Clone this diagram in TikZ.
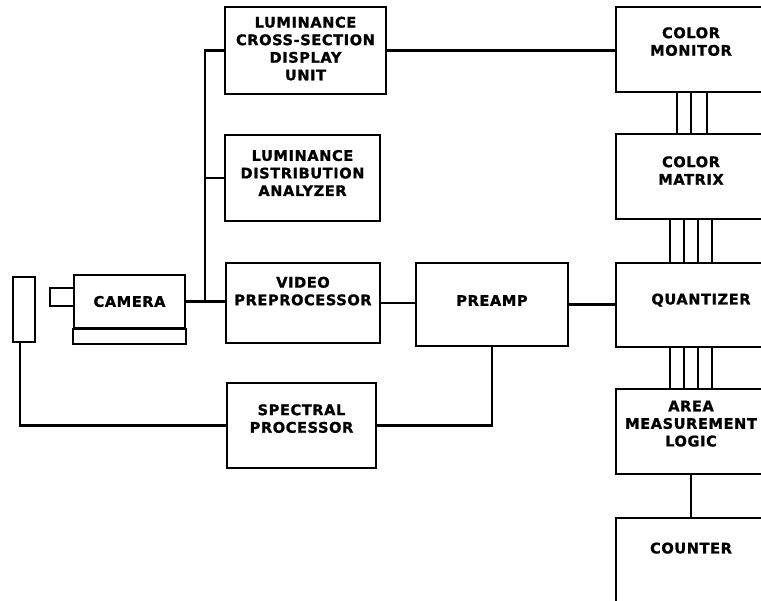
\documentclass[tikz,border=0pt]{standalone}
\usepackage{fontspec}
\newfontfamily\lettering{DejaVu Sans}[LetterSpace=4,BoldFeatures={FakeBold=1.2}]
\usetikzlibrary{positioning}

\begin{document}
\begin{tikzpicture}[x=0.02cm,y=-0.02cm,line width=1.2pt,
  blk/.style 2 args={draw,align=center,inner sep=1pt,minimum width=#1*0.02cm,minimum height=#2*0.02cm,
    font=\lettering\bfseries\fontsize{8.3}{10}\selectfont},
  lift/.style={text depth=#1*0.04cm},
  wire/.style={line width=1pt}]
\clip (0,0) rectangle (761,601);
% left part
\node[blk={22}{65}] (filt) at (24,309.5) {};
\node[blk={24}{18}] (lens) at (62,297) {};
\node[blk={111}{53},fill=white] (cam) at (129.5,301.5) {CAMERA};
\draw (cam.south west) rectangle ([yshift=-15*0.02cm]cam.south east);
\node[blk={161}{87},lift=2] (lcs) at (305.5,50.5) {LUMINANCE\\CROSS-SECTION\\DISPLAY\\UNIT};
\node[blk={155}{86},lift=5] (lda) at (302.5,178) {LUMINANCE\\DISTRIBUTION\\ANALYZER};
\node[blk={154}{80},lift=12] (vp) at (303,303) {VIDEO\\PREPROCESSOR};
\node[blk={152}{83},lift=4] (pre) at (492,304.5) {PREAMP};
\node[blk={149}{85},lift=7] (sp) at (301.5,425.5) {SPECTRAL\\PROCESSOR};
% right column
\node[blk={150}{85},lift=8] (cm) at (691,49.5) {COLOR\\MONITOR};
\node[blk={150}{85},lift=6] (cmx) at (691,176.5) {COLOR\\MATRIX};
\node[blk={150}{84},lift=6] (qz) at (691,305) {\kern0.4cm QUANTIZER};
\node[blk={150}{85},lift=8] (aml) at (691,431.5) {AREA\\MEASUREMENT\\LOGIC};
\node[blk={150}{92},lift=16] (ctr) at (691,564) {COUNTER};
% connections
\coordinate (bus) at (205,301.5);
\draw (cam.east) -- (cam.east -| vp.west);
\draw (bus) |- (lcs.west);
\draw (bus |- lda.west) -- (lda.west);
\draw (lcs.east) -- (lcs.east -| cm.west);
\draw (vp.east) -- (vp.east -| pre.west);
\draw (pre.east) -- (pre.east -| qz.west);
\draw (pre.south) |- (sp.east);
\draw (sp.west) -| ([xshift=-4*0.02cm]filt.south);
\foreach \x in {677,691,707}
  \draw[wire] (\x,0 |- cm.south) -- (\x,0 |- cmx.north);
\foreach \x in {670,684,698,712} {
  \draw[wire] (\x,0 |- cmx.south) -- (\x,0 |- qz.north);
  \draw[wire] (\x,0 |- qz.south) -- (\x,0 |- aml.north);
}
\draw (aml.south) -- (ctr.north);
\end{tikzpicture}
\end{document}
